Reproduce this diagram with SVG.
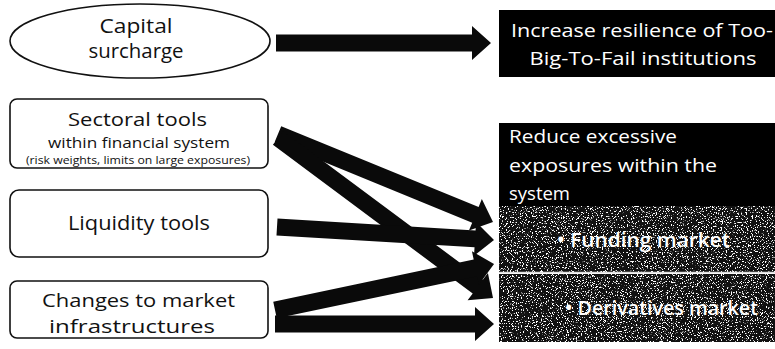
<svg xmlns="http://www.w3.org/2000/svg" width="775" height="349" viewBox="0 0 775 349">
<style>
.src{fill:#fff;stroke:#111;stroke-width:1.6}
.t{font-family:"Open Sans","Noto Sans","Liberation Sans",sans-serif;fill:#111;text-anchor:middle}
.w{font-family:"Open Sans","Noto Sans","Liberation Sans",sans-serif;fill:#fff}
.arr{fill:#0a0a0a}
.tex{fill:#111}
</style>
<defs>
<filter id="noise" x="0" y="0" width="100%" height="100%">
<feTurbulence type="fractalNoise" baseFrequency="0.8" numOctaves="2" seed="7" result="t"/>
<feColorMatrix in="t" type="matrix" values="0 0 0 0 1  0 0 0 0 1  0 0 0 0 1  14 0 0 0 -8.2"/>
</filter>
</defs>
<rect width="775" height="349" fill="#fff"/>
<g id="capital">
<ellipse class="src" cx="140" cy="41" rx="130" ry="37"/>
<text class="t" font-size="20"><tspan x="136" y="33" textLength="73" lengthAdjust="spacingAndGlyphs">Capital</tspan><tspan x="136" y="58" textLength="95" lengthAdjust="spacingAndGlyphs">surcharge</tspan></text>
</g>
<g id="sectoral">
<rect class="src" x="10" y="99" width="258" height="69" rx="7"/>
<text class="t"><tspan x="137.5" y="126" font-size="19" textLength="139" lengthAdjust="spacingAndGlyphs">Sectoral tools</tspan><tspan x="139" y="148" font-size="15" textLength="182" lengthAdjust="spacingAndGlyphs">within financial system</tspan><tspan x="138" y="163.5" font-size="10" textLength="224" lengthAdjust="spacingAndGlyphs">(risk weights, limits on large exposures)</tspan></text>
</g>
<g id="liquidity">
<rect class="src" x="10" y="190" width="258" height="67" rx="9"/>
<text class="t" x="139" y="230" font-size="20" textLength="142" lengthAdjust="spacingAndGlyphs">Liquidity tools</text>
</g>
<g id="changes">
<rect class="src" x="10" y="281" width="258" height="57" rx="7"/>
<text class="t" font-size="19"><tspan x="138.5" y="307" textLength="193" lengthAdjust="spacingAndGlyphs">Changes to market</tspan><tspan x="132" y="333" textLength="166" lengthAdjust="spacingAndGlyphs">infrastructures</tspan></text>
</g>
<g id="resilience">
<rect x="499" y="10" width="276" height="67" fill="#000"/>
<text class="w" font-size="19" text-anchor="middle"><tspan x="642" y="37" textLength="262" lengthAdjust="spacingAndGlyphs">Increase resilience of Too-</tspan><tspan x="643" y="65" textLength="227" lengthAdjust="spacingAndGlyphs">Big-To-Fail institutions</tspan></text>
</g>
<g id="exposures">
<rect x="499" y="123" width="276" height="83" fill="#000"/>
<text class="w" font-size="19"><tspan x="509" y="143" textLength="168" lengthAdjust="spacingAndGlyphs">Reduce excessive</tspan><tspan x="509" y="172" textLength="208" lengthAdjust="spacingAndGlyphs">exposures within the</tspan><tspan x="509" y="200" textLength="61" lengthAdjust="spacingAndGlyphs">system</tspan></text>
</g>
<g id="funding">
<rect class="tex" x="499" y="206" width="276" height="66"/>
<rect x="499" y="206" width="276" height="66" filter="url(#noise)"/>
<text class="w" x="557" y="247" font-size="19" font-weight="600" textLength="173" lengthAdjust="spacingAndGlyphs">• Funding market</text>
</g>
<line x1="499" y1="272.5" x2="775" y2="272.5" stroke="#ddd" stroke-width="1.5"/>
<g id="derivatives">
<rect class="tex" x="499" y="274" width="276" height="68"/>
<rect x="499" y="274" width="276" height="68" filter="url(#noise)"/>
<text class="w" x="565" y="315" font-size="19" font-weight="600" textLength="193" lengthAdjust="spacingAndGlyphs">• Derivatives market</text>
</g>
<g id="connectors">
<polygon class="arr" transform="translate(276,43)" points="0,-8.5 196,-8.5 196,-17 215,0 196,17 196,8.5 0,8.5"/>
<polygon class="arr" transform="translate(278,134) rotate(22.26)" points="0,-8.5 213.3,-8.5 213.3,-17 232.3,0 213.3,17 213.3,8.5 0,8.5"/>
<polygon class="arr" transform="translate(278,138) rotate(36.65)" points="0,-8.5 249,-8.5 249,-17 268,0 249,17 249,8.5 0,8.5"/>
<polygon class="arr" transform="translate(277,227) rotate(3.43)" points="0,-8.5 198.4,-8.5 198.4,-17 217.4,0 198.4,17 198.4,8.5 0,8.5"/>
<polygon class="arr" transform="translate(275,310) rotate(-11.86)" points="0,-8.5 204.8,-8.5 204.8,-17 223.8,0 204.8,17 204.8,8.5 0,8.5"/>
<polygon class="arr" transform="translate(275,324)" points="0,-8.5 200,-8.5 200,-17 219,0 200,17 200,8.5 0,8.5"/>
</g>
</svg>
